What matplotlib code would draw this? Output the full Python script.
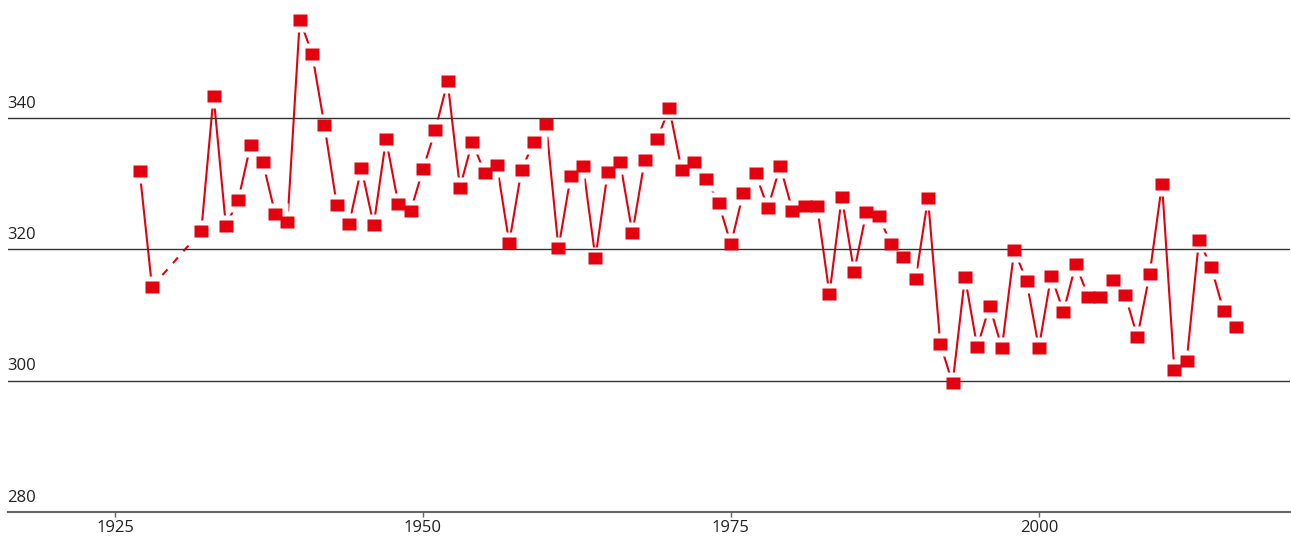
import numpy as np
import matplotlib
matplotlib.use("Agg")
import matplotlib.pyplot as plt
from matplotlib.path import Path

plt.rcParams['font.family'] = ['Open Sans', 'DejaVu Sans']

# yearly values, 1929-1931 missing
years = [1927, 1928] + list(range(1932, 2017))
values = [
    331.9, 314.3,                                                          # 1927-28
    322.8, 343.4, 323.6, 327.5, 335.9, 333.3, 325.4, 324.2,                # 1932-39
    355.0, 349.8, 338.9, 326.8, 323.9, 332.4, 323.7, 336.8, 326.9, 325.9,  # 1940-49
    332.2, 338.2, 345.6, 329.4, 336.4, 331.7, 332.9, 321.0, 332.1, 336.4,  # 1950-59
    339.1, 320.2, 331.2, 332.7, 318.7, 331.8, 333.3, 322.5, 333.6, 336.8,  # 1960-69
    341.5, 332.1, 333.3, 330.7, 327.1, 320.8, 328.6, 331.6, 326.3, 332.7,  # 1970-79
    325.9, 326.6, 326.6, 313.2, 328.0, 316.6, 325.7, 325.1, 320.8, 318.9,  # 1980-89
    315.5, 327.8, 305.6, 299.6, 315.8, 305.1, 311.4, 305.0, 319.9, 315.2,  # 1990-99
    305.0, 316.0, 310.5, 317.8, 312.8, 312.8, 315.4, 313.1, 306.7, 316.3,  # 2000-09
    330.0, 301.6, 303.0, 321.4, 317.3, 310.6, 308.2,                       # 2010-16
]
grid_vals = [280, 300, 320, 340]
xticks = [1925, 1950, 1975, 2000]

red = '#e3000f'

W, H = 1291, 539
fig = plt.figure(figsize=(W / 100, H / 100), dpi=100)
ax = fig.add_axes([7.5 / W, 27 / H, (1290 - 7.5) / W, 512 / H])
ax.set_xlim(1916.27, 2020.39)
ax.set_ylim(280, 358)

# solid runs with breaks, dashed across missing years
sx, sy = [], []
for i in range(len(years)):
    if i > 0 and years[i] - years[i - 1] > 1:
        sx.append(np.nan); sy.append(np.nan)
        ax.plot([years[i - 1], years[i]], [values[i - 1], values[i]], color=red,
                lw=1.5, dashes=(3.6, 4.0), zorder=2)
    sx.append(years[i]); sy.append(values[i])
ax.plot(sx, sy, color=red, lw=1.5, zorder=2, solid_capstyle='butt')

def rect(w, h):
    return Path([(-w, -h), (w, -h), (w, h), (-w, h), (-w, -h)],
                [Path.MOVETO, Path.LINETO, Path.LINETO, Path.LINETO, Path.CLOSEPOLY])

# white halo so the line stops short of each marker
ax.plot(years, values, ls='none', marker=rect(12.5, 11.5), ms=25 * 0.72,
        mfc='white', mec='none', zorder=3)
ax.plot(years, values, ls='none', marker=rect(7, 6), ms=14 * 0.72,
        mfc=red, mec='none', zorder=5)

for v in grid_vals[1:]:
    ax.axhline(v, color='#333333', lw=1, zorder=4)
for v in grid_vals:
    ax.annotate(str(v), xy=(0, v), xycoords=('axes fraction', 'data'),
                xytext=(0, 7.5), textcoords='offset points',
                ha='left', va='baseline', fontsize=12, color='#222222')

for s in ['left', 'right', 'top']:
    ax.spines[s].set_visible(False)
ax.spines['bottom'].set_color('#666666')
ax.spines['bottom'].set_linewidth(1.5)
ax.set_yticks([])
ax.set_xticks(xticks)
ax.tick_params(axis='x', length=3.6, width=1, color='#666666', pad=2,
               labelsize=12, labelcolor='#222222')

fig.savefig('out.png', dpi=100)
